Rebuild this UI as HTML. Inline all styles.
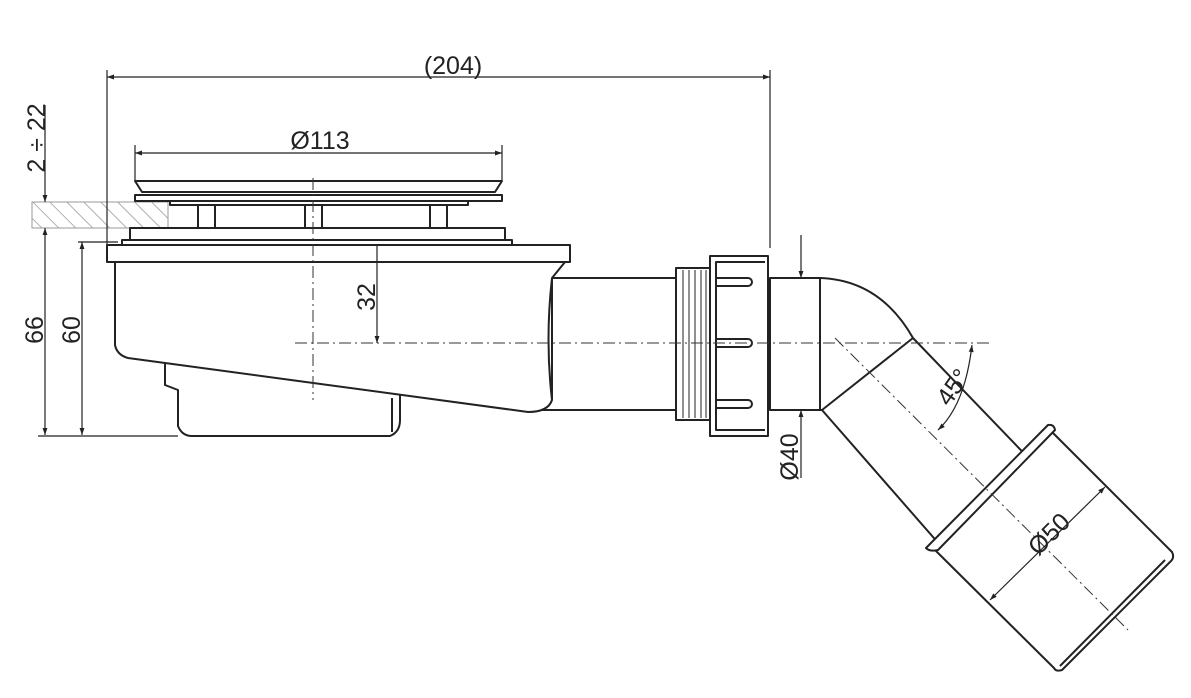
<!DOCTYPE html>
<html><head><meta charset="utf-8"><style>
html,body{margin:0;padding:0;background:#fff}
svg{display:block}
text{font-family:"Liberation Sans","DejaVu Sans",sans-serif;fill:#222}
</style></head><body>
<svg width="1191" height="698" viewBox="0 0 1191 698" xmlns="http://www.w3.org/2000/svg">
<defs>
<marker id="a" viewBox="0 0 10 10" refX="10" refY="5" markerWidth="9" markerHeight="7" orient="auto-start-reverse" markerUnits="userSpaceOnUse"><path d="M0,1.5 L10,5 L0,8.5z" fill="#222"/></marker>
<pattern id="h" width="12" height="12" patternUnits="userSpaceOnUse" patternTransform="rotate(-45)"><line x1="0" y1="0" x2="0" y2="12" stroke="#888" stroke-width="1.3"/></pattern>
</defs>
<rect x="32" y="202" width="136" height="26" fill="url(#h)" stroke="#999" stroke-width="1"/>
<g stroke="#222" stroke-width="2" fill="#fff" stroke-linejoin="round">
<!-- grate -->
<path d="M135,181 L502,181 L495,192 L142,192 Z"/>
<rect x="135" y="195" width="367" height="6"/>
<rect x="170" y="201" width="298" height="4"/>
<rect x="198" y="205" width="17" height="23"/>
<rect x="305" y="205" width="17" height="23"/>
<rect x="430" y="205" width="17" height="23"/>
<rect x="130" y="228" width="375" height="12"/>
<rect x="122" y="240" width="390" height="5"/>
<!-- trap -->
<path d="M165,350 L165,385 L178,390 L178,426 Q182,436 192,436 L390,436 Q400,432 400,420 L400,390 Z"/>
<line x1="392" y1="398" x2="392" y2="432"/>
<!-- pipe -->
<path d="M540,278 L680,278 L680,410 L520,410 Z" />
<!-- body -->
<path d="M115,262 L115,345 Q117,355 128,358 L528,412 Q548,412 552,400 L552,278 L565,262 Z"/>
<path d="M552,278 Q545,340 552,400" fill="none"/>
<rect x="107" y="245" width="463" height="17"/>
<!-- thread -->
<rect x="676" y="268" width="36" height="152"/>
<g stroke-width="1"><line x1="683" y1="270" x2="683" y2="418"/><line x1="689" y1="270" x2="689" y2="418"/><line x1="695" y1="270" x2="695" y2="418"/><line x1="701" y1="270" x2="701" y2="418"/><line x1="706" y1="270" x2="706" y2="418"/></g>
<!-- nut -->
<rect x="710" y="256" width="58" height="180"/>
<path d="M765,262 L716,262 L716,430 L765,430" fill="none"/>
<path d="M716,278 L748,278 a4,4 0 0 1 0,8 L716,286" fill="none"/>
<path d="M716,339 L748,339 a4,4 0 0 1 0,8 L716,347" fill="none"/>
<path d="M716,400 L748,400 a4,4 0 0 1 0,8 L716,408" fill="none"/>
<!-- short pipe and elbow -->
<path d="M770,278 L820,278 Q880,280 913,338 L1040,470 L940,545 L822,410 L770,410 Z"/>
<line x1="820" y1="278" x2="820" y2="410"/>
<line x1="913" y1="338" x2="822" y2="410"/>
<!-- outer sleeve -->
<path d="M935,550 L1052,432 L1172,552 Q1175,558 1170,562 L1062,670 Q1056,672 1054,668 Z"/>
<path d="M926,548 L1048,425 Q1054,424 1055,430 L938,550 Q930,552 926,548 Z"/>
<line x1="1165" y1="560" x2="1060" y2="666"/>
</g>
<g stroke="#333" stroke-width="1" fill="none" stroke-dasharray="12,4,2,4">
<line x1="295" y1="343" x2="990" y2="343"/>
<line x1="313" y1="178" x2="313" y2="400"/>
<line x1="835" y1="338" x2="1128" y2="630"/>
</g>
<g stroke="#222" stroke-width="1.2" fill="none">
<line x1="107" y1="77" x2="770" y2="77" marker-start="url(#a)" marker-end="url(#a)"/>
<line x1="107" y1="70" x2="107" y2="245"/>
<line x1="770" y1="70" x2="770" y2="248"/>
<line x1="135" y1="153" x2="502" y2="153" marker-start="url(#a)" marker-end="url(#a)"/>
<line x1="135" y1="145" x2="135" y2="180"/>
<line x1="502" y1="145" x2="502" y2="180"/>
<line x1="45" y1="105" x2="45" y2="202" marker-end="url(#a)"/>
<line x1="45" y1="228" x2="45" y2="435" marker-start="url(#a)" marker-end="url(#a)"/>
<line x1="82" y1="242" x2="82" y2="435" marker-start="url(#a)" marker-end="url(#a)"/>
<line x1="78" y1="242" x2="118" y2="242"/>
<line x1="38" y1="436" x2="178" y2="436"/>
<line x1="377" y1="245" x2="377" y2="343" marker-end="url(#a)"/>
<line x1="801" y1="235" x2="801" y2="278" marker-end="url(#a)"/>
<line x1="801" y1="410" x2="801" y2="478" marker-start="url(#a)"/>
<line x1="990" y1="600" x2="1105" y2="487" marker-start="url(#a)" marker-end="url(#a)"/>
<path d="M972,345 Q965,405 938,430" marker-start="url(#a)" marker-end="url(#a)"/>
</g>
<g font-size="25">
<text x="453" y="74" text-anchor="middle">(204)</text>
<text x="320" y="149" text-anchor="middle">Ø113</text>
<text transform="translate(45,138) rotate(-90)" text-anchor="middle">2 ÷ 22</text>
<text transform="translate(43,330) rotate(-90)" text-anchor="middle">66</text>
<text transform="translate(80,330) rotate(-90)" text-anchor="middle">60</text>
<text transform="translate(375,297) rotate(-90)" text-anchor="middle">32</text>
<text transform="translate(798,457) rotate(-90)" text-anchor="middle">Ø40</text>
<text transform="translate(960,392) rotate(-55)" text-anchor="middle">45°</text>
<text transform="translate(1055,540) rotate(-45)" text-anchor="middle">Ø50</text>
</g>
</svg>
</body></html>
